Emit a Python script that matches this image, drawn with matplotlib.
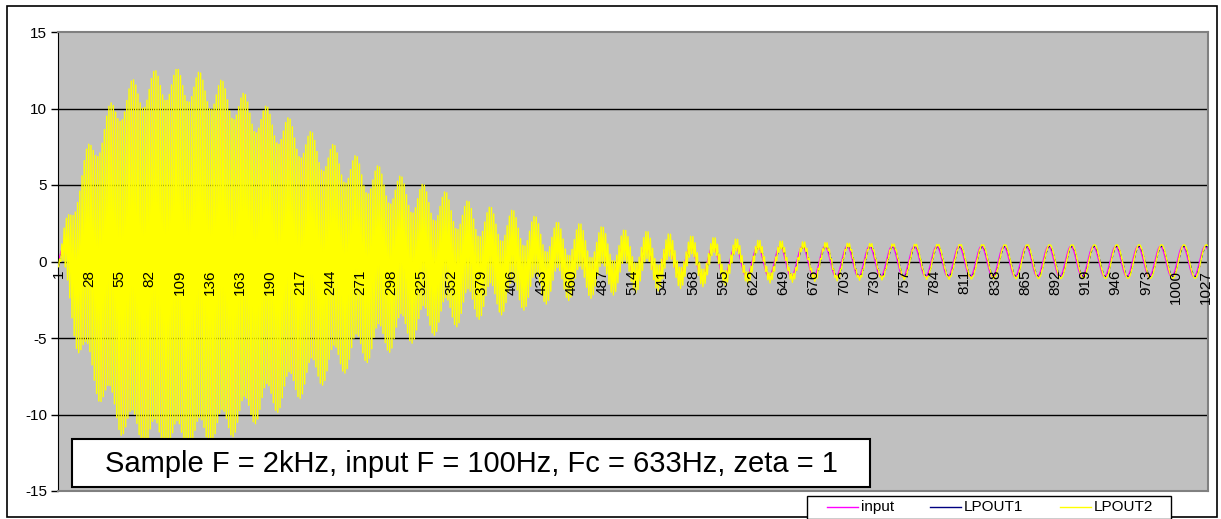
import numpy as np
import matplotlib.pyplot as plt
from matplotlib.lines import Line2D
from matplotlib.patches import Rectangle

plt.rcParams['font.family'] = ['Liberation Sans', 'DejaVu Sans']
plt.rcParams['axes.unicode_minus'] = False

W, H = 1221, 519

# signal setup (from the note in the chart)
n_samples = 1028
sample_rate = 2000
input_freq = 100
input_amp = 1.0
lp1_amp = 1.0
lp1_lag = 1.0
lp2_amp = 1.1
lp2_lag = 1.0

# envelope of the LPOUT2 sample-to-sample oscillation
env_n = [1, 4, 9, 18, 26, 36, 46, 56, 67, 77, 87, 97, 106, 116, 127, 137,
         146, 156, 167, 177, 186, 196, 207, 227, 246, 265, 286, 307, 326,
         346, 366, 386, 406, 426, 446, 468, 487, 506, 527, 566, 587, 620,
         660, 700, 760, 850, 950, 1028]
env_amp = [0.0, 0.5, 2.1, 4.9, 6.3, 7.9, 9.1, 10.2, 10.8, 11.1, 11.4, 11.6,
           11.5, 11.5, 11.3, 11.0, 10.8, 10.4, 9.9, 9.5, 9.1, 8.8, 8.3, 7.4,
           6.6, 5.9, 5.2, 4.5, 4.0, 3.5, 2.9, 2.5, 2.3, 1.9, 1.5, 1.4, 1.2,
           1.0, 0.9, 0.6, 0.5, 0.35, 0.25, 0.15, 0.08, 0.03, 0.01, 0.0]

tick_labels = list(range(1, 1028, 27))
y_ticks = [-15, -10, -5, 0, 5, 10, 15]
grid_levels = [-10, -5, 5, 10]

series_names = ['input', 'LPOUT1', 'LPOUT2']
series_colors = ['#FF00FF', '#000080', '#FFFF00']
note = 'Sample F = 2kHz, input F = 100Hz, Fc = 633Hz, zeta = 1'

n = np.arange(1, n_samples + 1)
period = sample_rate / input_freq
input_sig = input_amp * np.sin(2 * np.pi * (n - 1) / period)
lpout1 = lp1_amp * np.sin(2 * np.pi * (n - 1 - lp1_lag) / period)
lpout2 = (lp2_amp * np.sin(2 * np.pi * (n - 1 - lp2_lag) / period)
          + np.interp(n, env_n, env_amp) * (-1.0) ** n)

fig = plt.figure(figsize=(W / 100, H / 100), dpi=100)
fig.patch.set_facecolor('white')

# outer chart border
fig.add_artist(Rectangle((7 / W, 1 - 517 / H), (1217 - 7) / W, (517 - 6) / H,
                         transform=fig.transFigure, facecolor='none',
                         edgecolor='black', lw=1.2))

ax = fig.add_axes([58 / W, 1 - 491 / H, (1208 - 58) / W, (491 - 32) / H])
ax.set_facecolor('#C0C0C0')
for side in ['top', 'right', 'bottom']:
    ax.spines[side].set_color('#808080')
    ax.spines[side].set_linewidth(1.5)
ax.spines['left'].set_color('black')

for g in grid_levels:
    ax.axhline(g, color='black', lw=1, zorder=1)
ax.axhline(0, color='black', lw=1, zorder=1.5)

ax.plot(n, input_sig, color=series_colors[0], lw=1, zorder=2)
ax.plot(n, lpout1, color=series_colors[1], lw=1, ls=(0, (2, 2)), zorder=3)
ax.plot(n, lpout2, color=series_colors[2], lw=1, zorder=4)

ax.set_xlim(0.5, n_samples + 0.5)
ax.set_ylim(-15, 15)
ax.set_xticks([])
ax.set_yticks(y_ticks)
ax.tick_params(axis='y', length=5, width=1, direction='out', labelsize=11, pad=3)

for t in tick_labels:
    ax.annotate(str(t), (t, 0), xytext=(0, -6), textcoords='offset points',
                rotation=90, ha='center', va='top', fontsize=11, zorder=5)

# note box
fig.add_artist(Rectangle((72 / W, 1 - 487 / H), (870 - 72) / W, 48 / H,
                         transform=fig.transFigure, facecolor='white',
                         edgecolor='black', lw=1.5, zorder=10))
fig.text((72 + 870) / 2 / W, 1 - 464 / H, note, ha='center', va='center',
         fontsize=21, zorder=11)

# legend
fig.add_artist(Rectangle((807 / W, 1 - 519 / H), (1171 - 807) / W, 23 / H,
                         transform=fig.transFigure, facecolor='white',
                         edgecolor='black', lw=1, zorder=10))
leg_x = [827, 930, 1060]
for x0, name, col in zip(leg_x, series_names, series_colors):
    fig.add_artist(Line2D([x0 / W, (x0 + 31) / W], [1 - 507 / H, 1 - 507 / H],
                          transform=fig.transFigure, color=col, lw=1, zorder=11))
    fig.text((x0 + 34) / W, 1 - 507 / H, name, ha='left', va='center',
             fontsize=11, zorder=11)

fig.savefig('out.png', dpi=100)
